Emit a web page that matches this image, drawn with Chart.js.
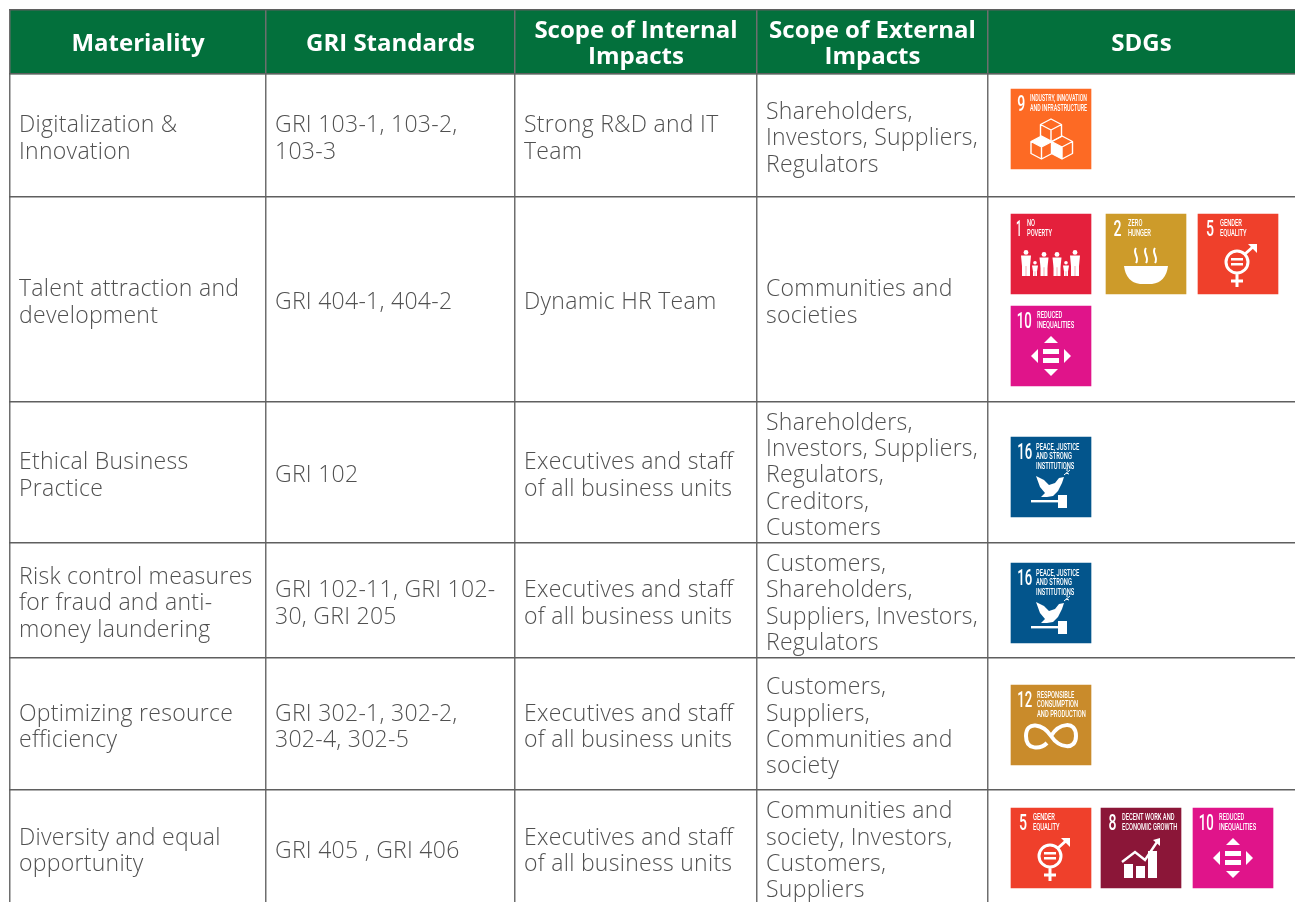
<!DOCTYPE html>
<html>
<head>
<meta charset="utf-8">
<title>Materiality table</title>
<script src="https://cdn.jsdelivr.net/npm/chart.js@4"></script>
<style>
  html, body { margin: 0; background: #fff; overflow: hidden; }
  canvas { display: block; }
</style>
</head>
<body>
<canvas id="materialityChart" width="1295" height="902"></canvas>
<script>
const columnEdges = [10, 266, 515, 757, 988];
const rowEdges = [10, 74, 197, 402, 543, 658, 790];
const tableEnd = 906; // last row runs off the bottom of the page

const headers = [
  ['Materiality'],
  ['GRI Standards'],
  ['Scope of Internal', 'Impacts'],
  ['Scope of External', 'Impacts'],
  ['SDGs']
];
const materiality = [
  ['Digitalization &', 'Innovation'],
  ['Talent attraction and', 'development'],
  ['Ethical Business', 'Practice'],
  ['Risk control measures', 'for fraud and anti-', 'money laundering'],
  ['Optimizing resource', 'efficiency'],
  ['Diversity and equal', 'opportunity']
];
const griStandards = [
  ['GRI 103-1, 103-2,', '103-3'],
  ['GRI 404-1, 404-2'],
  ['GRI 102'],
  ['GRI 102-11, GRI 102-', '30, GRI 205'],
  ['GRI 302-1, 302-2,', '302-4, 302-5'],
  ['GRI 405 , GRI 406']
];
const internalScope = [
  ['Strong R&D and IT', 'Team'],
  ['Dynamic HR Team'],
  ['Executives and staff', 'of all business units'],
  ['Executives and staff', 'of all business units'],
  ['Executives and staff', 'of all business units'],
  ['Executives and staff', 'of all business units']
];
const externalScope = [
  ['Shareholders,', 'Investors, Suppliers,', 'Regulators'],
  ['Communities and', 'societies'],
  ['Shareholders,', 'Investors, Suppliers,', 'Regulators,', 'Creditors,', 'Customers'],
  ['Customers,', 'Shareholders,', 'Suppliers, Investors,', 'Regulators'],
  ['Customers,', 'Suppliers,', 'Communities and', 'society'],
  ['Communities and', 'society, Investors,', 'Customers,', 'Suppliers']
];

// SDG tiles, one entry per tile: goal number, left edge and top edge on the table scales
const tileGoals = [9, 1, 2, 5, 10, 16, 16, 12, 5, 8, 10];
const tileLeft = [1011, 1011, 1106, 1198, 1011, 1011, 1011, 1011, 1011, 1101, 1193];
const tileTop = [89, 214, 214, 214, 306, 437, 563, 685, 808, 808, 808];
const tileSize = 80;

const goalColors = {
  1: '#e4203c', 2: '#cd9b2a', 5: '#ef402b', 8: '#8b1638',
  9: '#fd6a24', 10: '#e0148a', 12: '#c98b2b', 16: '#03558c'
};
const goalLabels = {
  1: ['NO', 'POVERTY'],
  2: ['ZERO', 'HUNGER'],
  5: ['GENDER', 'EQUALITY'],
  8: ['DECENT WORK AND', 'ECONOMIC GROWTH'],
  9: ['INDUSTRY, INNOVATION', 'AND INFRASTRUCTURE'],
  10: ['REDUCED', 'INEQUALITIES'],
  12: ['RESPONSIBLE', 'CONSUMPTION', 'AND PRODUCTION'],
  16: ['PEACE, JUSTICE', 'AND STRONG', 'INSTITUTIONS']
};
const goalLabelX = { 1: 16, 2: 22, 5: 22, 8: 21, 9: 19, 10: 26, 12: 26, 16: 25 };
const goalNumberX = { 1: 5, 2: 7.5, 5: 8, 8: 7.5, 9: 6.3, 10: 5.7, 12: 6.3, 16: 6.3 };

function shape(ctx, pts) {
  ctx.beginPath();
  pts.forEach((p, i) => i ? ctx.lineTo(p[0], p[1]) : ctx.moveTo(p[0], p[1]));
  ctx.closePath();
  ctx.fill();
}

function person(ctx, x, top, h, w) {
  const head = w > 7 ? 2.4 : 1.8;
  ctx.beginPath();
  ctx.arc(x, top + head, head, 0, Math.PI * 2);
  ctx.fill();
  const shoulder = top + head * 2 + 0.8;
  shape(ctx, [[x - w / 2, shoulder], [x + w / 2, shoulder], [x + w / 2 - 1, shoulder + h * 0.4], [x - w / 2 + 1, shoulder + h * 0.4]]);
  const legW = w / 2 - 1.2;
  ctx.fillRect(x - w / 2 + 1, shoulder + h * 0.38, legW, top + h - shoulder - h * 0.38);
  ctx.fillRect(x + 0.2, shoulder + h * 0.38, legW, top + h - shoulder - h * 0.38);
}

const goalIcons = {
  1(ctx) {
    [[15, 36, 26, 10], [24, 47, 15, 6], [33, 38, 24, 9], [46, 38, 24, 9], [55, 47, 15, 6], [64, 36, 26, 10]]
      .forEach(p => person(ctx, p[0], p[1], p[2], p[3]));
  },
  2(ctx) {
    ctx.beginPath();
    ctx.moveTo(18, 52);
    ctx.lineTo(62, 52);
    ctx.quadraticCurveTo(60, 68, 46, 70);
    ctx.lineTo(34, 70);
    ctx.quadraticCurveTo(20, 68, 18, 52);
    ctx.fill();
    ctx.lineWidth = 2;
    [30, 40, 49].forEach(x => {
      ctx.beginPath();
      ctx.moveTo(x, 34);
      ctx.bezierCurveTo(x - 4, 39, x + 4, 43, x, 49);
      ctx.stroke();
    });
  },
  5(ctx) {
    ctx.lineWidth = 3;
    ctx.beginPath();
    ctx.arc(39, 48, 11, 0, Math.PI * 2);
    ctx.moveTo(47, 40);
    ctx.lineTo(57, 31);
    ctx.moveTo(39, 59);
    ctx.lineTo(39, 73);
    ctx.moveTo(33, 67);
    ctx.lineTo(45, 67);
    ctx.stroke();
    shape(ctx, [[50, 30], [59, 30], [59, 39]]);
    ctx.fillRect(33, 44, 12, 2.5);
    ctx.fillRect(33, 49, 12, 2.5);
  },
  8(ctx) {
    ctx.fillRect(23, 56, 9, 14);
    ctx.fillRect(35, 58, 9, 12);
    ctx.fillRect(47, 43, 9, 27);
    ctx.lineWidth = 2.4;
    ctx.beginPath();
    ctx.moveTo(21, 54);
    ctx.lineTo(34, 44);
    ctx.lineTo(44, 52);
    ctx.lineTo(56, 34);
    ctx.stroke();
    shape(ctx, [[52, 32], [59, 30], [59, 38]]);
  },
  9(ctx) {
    ctx.lineWidth = 1.4;
    ctx.lineJoin = 'round';
    [[40, 30], [30.5, 47], [51, 47]].forEach((c, i) => {
      const [x, y] = c;
      ctx.beginPath();
      ctx.moveTo(x, y);
      ctx.lineTo(x + 10.5, y + 5.5);
      ctx.lineTo(x + 10.5, y + 17.5);
      ctx.lineTo(x, y + 23);
      ctx.lineTo(x - 10.5, y + 17.5);
      ctx.lineTo(x - 10.5, y + 5.5);
      ctx.closePath();
      ctx.moveTo(x - 10.5, y + 5.5);
      ctx.lineTo(x, y + 11);
      ctx.lineTo(x + 10.5, y + 5.5);
      ctx.moveTo(x, y + 11);
      ctx.lineTo(x, y + 23);
      ctx.stroke();
      if (i === 1) shape(ctx, [[x, y], [x + 10.5, y + 5.5], [x, y + 11], [x - 10.5, y + 5.5]]);
      if (i === 2) shape(ctx, [[x - 10.5, y + 5.5], [x, y + 11], [x, y + 23], [x - 10.5, y + 17.5]]);
    });
  },
  10(ctx) {
    shape(ctx, [[40, 30], [47, 37], [33, 37]]);
    shape(ctx, [[40, 70], [47, 63], [33, 63]]);
    shape(ctx, [[20, 50], [27, 43], [27, 57]]);
    shape(ctx, [[60, 50], [53, 43], [53, 57]]);
    ctx.fillRect(32, 43, 16, 5);
    ctx.fillRect(32, 52, 16, 5);
  },
  12(ctx) {
    ctx.lineWidth = 4;
    ctx.beginPath();
    ctx.moveTo(40, 51);
    ctx.bezierCurveTo(48, 38, 65, 35, 65, 51);
    ctx.bezierCurveTo(65, 66, 48, 63, 40, 51);
    ctx.bezierCurveTo(32, 39, 15, 35, 15, 51);
    ctx.bezierCurveTo(15, 66, 30, 64, 36, 58);
    ctx.stroke();
  },
  16(ctx) {
    shape(ctx, [[25, 39], [33, 43], [38, 48], [44, 46], [48, 41], [53, 40], [51, 46], [47, 54], [42, 59], [36, 60], [30, 60], [34, 56], [29, 50]]);
    ctx.fillRect(20, 63, 28, 2.4);
    ctx.fillRect(47, 58, 9, 13);
    ctx.lineWidth = 1;
    ctx.beginPath();
    ctx.moveTo(53, 38);
    ctx.lineTo(59, 33);
    ctx.moveTo(55, 36);
    ctx.lineTo(58, 37);
    ctx.moveTo(56, 34);
    ctx.lineTo(56, 31);
    ctx.stroke();
  }
};

const bodyColumns = [materiality, griStandards, internalScope, externalScope];

const tableText = {
  id: 'tableText',
  afterDatasetsDraw(chart) {
    const { ctx, scales: { x, y } } = chart;
    const lineHeight = 26.4;
    ctx.save();
    ctx.textBaseline = 'middle';

    // header row
    const edges = columnEdges.concat(x.max);
    ctx.font = "700 24px 'Open Sans'";
    ctx.fillStyle = '#fff';
    ctx.textAlign = 'center';
    headers.forEach((lines, c) => {
      const cx = x.getPixelForValue((edges[c] + edges[c + 1]) / 2);
      const cy = y.getPixelForValue((rowEdges[0] + rowEdges[1]) / 2) + 2;
      lines.forEach((t, i) => ctx.fillText(t, cx, cy + (i - (lines.length - 1) / 2) * 26));
    });

    // body rows
    const rows = rowEdges.slice(1).concat(tableEnd);
    ctx.font = "300 23px 'Open Sans'";
    ctx.letterSpacing = '0.28px';
    ctx.fillStyle = '#505050';
    ctx.textAlign = 'left';
    bodyColumns.forEach((column, c) => {
      column.forEach((lines, r) => {
        const left = x.getPixelForValue(columnEdges[c]) + 9;
        const mid = y.getPixelForValue((rows[r] + rows[r + 1]) / 2) + 3.3;
        lines.forEach((t, i) => ctx.fillText(t, left, mid + (i - (lines.length - 1) / 2) * lineHeight));
      });
    });
    ctx.letterSpacing = '0px';

    // SDG tile contents
    tileGoals.forEach((goal, t) => {
      ctx.save();
      ctx.translate(x.getPixelForValue(tileLeft[t]), y.getPixelForValue(tileTop[t]));
      ctx.filter = 'blur(0.4px)';
      ctx.fillStyle = '#fff';
      ctx.strokeStyle = '#fff';
      ctx.textAlign = 'left';
      ctx.font = "500 22px Roboto";
      const num = String(goal);
      const digitWidth = goal === 1 ? 5.7 : 8;
      ctx.fillText(num, goalNumberX[goal], 16, num.length * digitWidth - (num.length > 1 ? 1 : 0));
      ctx.font = "500 8.5px Roboto";
      const labels = goalLabels[goal];
      labels.forEach((line, i) => {
        const w = Math.min(ctx.measureText(line).width * 0.68, 57);
        ctx.fillText(line, goalLabelX[goal], (labels.length === 3 ? 11 : 10.3) + i * 9.3, w);
      });
      goalIcons[goal](ctx);
      ctx.restore();
    });
    ctx.restore();
  }
};

new Chart(document.getElementById('materialityChart'), {
  type: 'bar',
  data: {
    datasets: [
      {
        label: 'Header',
        stack: 'table',
        data: [{ x: (columnEdges[0] + 1295) / 2, y: [rowEdges[0], rowEdges[1]] }],
        barThickness: 1295 - columnEdges[0],
        backgroundColor: '#03703c'
      },
      {
        label: 'SDG tiles',
        stack: 'table',
        data: tileGoals.map((g, i) => ({ x: tileLeft[i] + tileSize / 2, y: [tileTop[i], tileTop[i] + tileSize] })),
        barThickness: tileSize,
        backgroundColor: tileGoals.map(g => goalColors[g])
      }
    ]
  },
  options: {
    responsive: false,
    animation: false,
    layout: { padding: { left: 9, top: 9, right: 0, bottom: 0 } },
    plugins: { legend: { display: false }, tooltip: { enabled: false } },
    scales: {
      x: {
        type: 'linear',
        min: 9,
        max: 1295,
        offset: false,
        border: { display: false },
        ticks: { display: false },
        grid: {
          offset: false,
          z: 1,
          drawTicks: false,
          lineWidth: 1.5,
          color: '#6e6e6e'
        },
        afterBuildTicks(axis) { axis.ticks = columnEdges.map(v => ({ value: v })); }
      },
      y: {
        type: 'linear',
        reverse: true,
        stacked: false,
        min: 9,
        max: 902,
        border: { display: false },
        ticks: { display: false },
        grid: {
          z: 1,
          drawTicks: false,
          lineWidth: 1.5,
          color: '#5f5f5f'
        },
        afterBuildTicks(axis) { axis.ticks = rowEdges.map(v => ({ value: v })); }
      }
    }
  },
  plugins: [tableText]
});
</script>
</body>
</html>
